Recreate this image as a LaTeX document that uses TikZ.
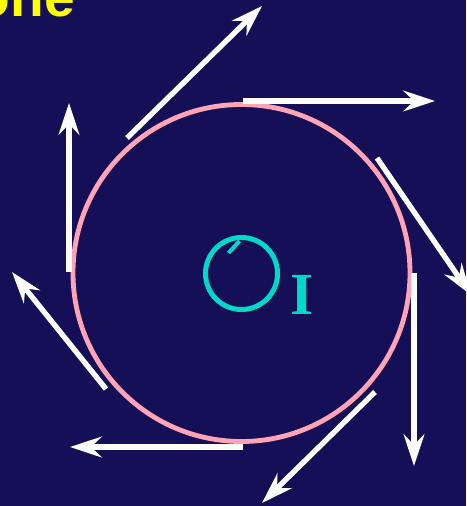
\documentclass[tikz,border=0pt]{standalone}
\usepackage{fontspec}
\setmainfont{Liberation Serif}
\setsansfont{Liberation Sans}
\usetikzlibrary{arrows.meta}
\definecolor{slidebg}{HTML}{140F57}
\definecolor{ringpink}{HTML}{FFA3B5}
\definecolor{origincyan}{HTML}{00D8C8}
\definecolor{titleyellow}{HTML}{FFFF00}

\begin{document}
\begin{tikzpicture}[
    x=0.03cm, y=-0.03cm,
    vec/.style={draw=white, line width=0.16cm,
                -{Stealth[length=0.95cm, width=0.62cm, inset=0.32cm]}},
    ring/.style={circle, draw=ringpink, line width=0.145cm, inner sep=0pt, minimum size=10.11cm},
    origin/.style={circle, draw=origincyan, line width=0.15cm, inner sep=0pt, minimum size=2.16cm},
]

% Background
\fill[slidebg] (0,0) rectangle (466,506);
\useasboundingbox (0,0) rectangle (466,506);

% Title (cut off at the top)
\node[anchor=base east, inner sep=0pt, text=titleyellow, font=\sffamily\bfseries\fontsize{47}{47}\selectfont]
      (title) at (75,16.5) {one};

% Circle and its centre
\node[ring] (wheel) at (241.5,273) {};
\node[origin] (centre) at (241.5,273.5) {};
\coordinate (tickA) at (239.5,241);
\coordinate (tickB) at (228.5,253);
\draw[origincyan, line width=0.12cm] (tickA) -- (tickB);
\node[text=origincyan, font=\rmfamily\bfseries\fontsize{51}{51}\selectfont, inner sep=0pt]
      (sub) at (302.5,295) {I};

% Tangent arrows
\coordinate (s1) at (243,101);  \coordinate (e1) at (435,101);
\coordinate (s2) at (377,158);  \coordinate (e2) at (471,295);
\coordinate (s3) at (414,273);  \coordinate (e3) at (414,466);
\coordinate (s4) at (375,392);  \coordinate (e4) at (262,503);
\coordinate (s5) at (243,447);  \coordinate (e5) at (70,447);
\coordinate (s6) at (106,389);  \coordinate (e6) at (12,272);
\coordinate (s7) at (69,272);   \coordinate (e7) at (69,103);
\coordinate (s8) at (127,138);  \coordinate (e8) at (262,6);

\draw[vec] (s1) -- (e1);
\draw[vec] (s2) -- (e2);
\draw[vec] (s3) -- (e3);
\draw[vec] (s4) -- (e4);
\draw[vec] (s5) -- (e5);
\draw[vec] (s6) -- (e6);
\draw[vec] (s7) -- (e7);
\draw[vec] (s8) -- (e8);

\end{tikzpicture}
\end{document}
